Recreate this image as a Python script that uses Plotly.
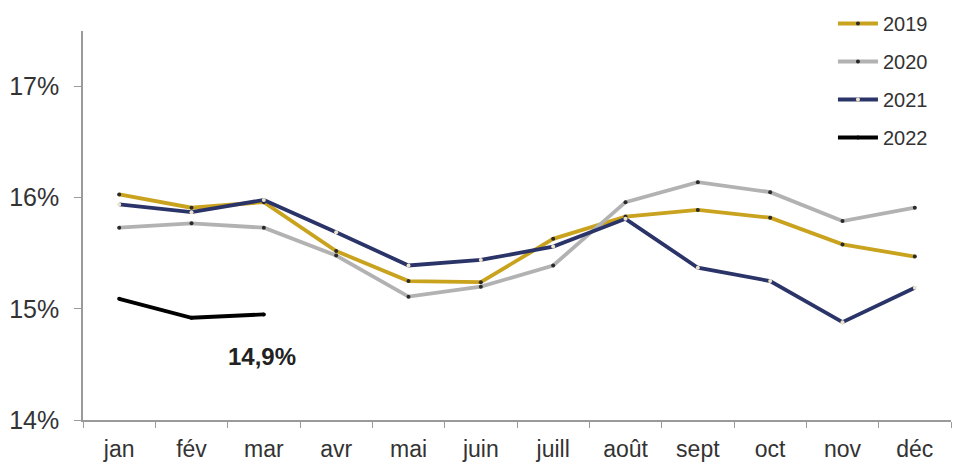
import plotly.graph_objects as go

months = ["jan", "fév", "mar", "avr", "mai", "juin", "juill", "août", "sept", "oct", "nov", "déc"]
y2019 = [16.03, 15.91, 15.96, 15.52, 15.25, 15.24, 15.63, 15.83, 15.89, 15.82, 15.58, 15.47]
y2020 = [15.73, 15.77, 15.73, 15.48, 15.11, 15.20, 15.39, 15.96, 16.14, 16.05, 15.79, 15.91]
y2021 = [15.94, 15.87, 15.98, 15.69, 15.39, 15.44, 15.56, 15.81, 15.37, 15.25, 14.88, 15.19]
y2022 = [15.09, 14.92, 14.95]
yticks = [14, 15, 16, 17]
yticklabels = ["14%", "15%", "16%", "17%"]
last_label = "14,9%"

FONT = "Liberation Sans, Arial, sans-serif"

series = [
    ("2019", y2019, "#C9A21E", "#2a2a2a"),
    ("2020", y2020, "#B2B2B2", "#2a2a2a"),
    ("2021", y2021, "#2B3468", "#EDE4CC"),
    ("2022", y2022, "#000000", "#000000"),
]

fig = go.Figure()
for name, vals, col, mcol in series:
    fig.add_trace(go.Scatter(
        x=months[:len(vals)], y=vals, name=name, legendgroup=name,
        mode="lines+markers",
        line=dict(color=col, width=3.8),
        marker=dict(color=mcol, size=4),
    ))

fig.add_annotation(x="mar", y=14.568, text=f"<b>{last_label}</b>", showarrow=False,
                   xshift=-2, font=dict(size=24, color="#222", family=FONT))

# page body has an 8px margin: figure is 962x457 so the plot area lands at 83..951 x 31..420
fig.update_layout(
    width=962, height=457,
    margin=dict(l=75, r=19, t=23, b=45, autoexpand=False),
    paper_bgcolor="white", plot_bgcolor="white",
    font=dict(family=FONT, color="#333"),
    showlegend=True,
    legend=dict(x=0.864, y=1.0694, xanchor="left", yanchor="top",
                font=dict(size=20, color="#333", family=FONT),
                tracegroupgap=9, traceorder="grouped",
                bgcolor="rgba(0,0,0,0)", itemwidth=40),
    xaxis=dict(
        type="category", categoryorder="array", categoryarray=months,
        range=[-0.5, 11.5],
        showline=True, linecolor="#9a9a9a", linewidth=1.5,
        ticks="outside", tickson="boundaries", ticklen=6, tickcolor="#9a9a9a",
        ticklabelstandoff=8,
        showgrid=False, zeroline=False,
        tickfont=dict(size=23, color="#333", family=FONT),
    ),
    yaxis=dict(
        range=[14, 17.5],
        tickvals=yticks, ticktext=yticklabels,
        showline=True, linecolor="#9a9a9a", linewidth=1.5,
        ticks="outside", ticklen=7, tickcolor="#9a9a9a",
        ticklabelstandoff=10,
        showgrid=False, zeroline=False,
        tickfont=dict(size=25, color="#333", family=FONT),
    ),
)

fig.write_html("out.html")
